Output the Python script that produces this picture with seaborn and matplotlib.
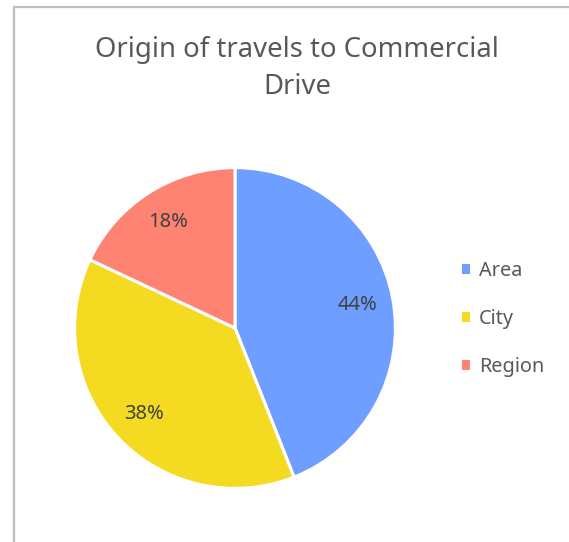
import matplotlib
matplotlib.use("Agg")
import matplotlib.pyplot as plt
import seaborn as sns
from matplotlib.lines import Line2D
from matplotlib.patches import Patch

categories = ["Area", "City", "Region"]
shares = [44, 38, 18]
colors = ["#6E9EFF", "#F5DA22", "#FF8373"]
title = "Origin of travels to Commercial\nDrive"

sns.set_theme(style="white")
plt.rcParams["font.family"] = ["Noto Sans", "DejaVu Sans"]

W, H = 569, 542
fig = plt.figure(figsize=(W / 100, H / 100), dpi=100)
fig.patch.set_facecolor("white")

cx, cy, r = 235, 328, 162
ax = fig.add_axes([(cx - r) / W, (H - cy - r) / H, 2 * r / W, 2 * r / H])
wedges, texts, autotexts = ax.pie(
    shares, colors=colors, startangle=90, counterclock=False,
    autopct=lambda p: f"{p:.0f}%", pctdistance=0.78,
    wedgeprops=dict(edgecolor="white", linewidth=2.2),
    textprops=dict(color="#404040", fontsize=14.5),
)
ax.set_xlim(-1.01, 1.01)
ax.set_ylim(-1.01, 1.01)
ax.set_aspect("equal")
ax.axis("off")

fig.text(297 / W, 1 - 68.5 / H, title, ha="center", va="center",
         fontsize=19.8, color="#595959", linespacing=1.46)

handles = [Patch(facecolor=c, edgecolor="none") for c in colors]
fig.legend(handles, categories, loc="center left",
           bbox_to_anchor=(444 / W, 1 - 319 / H), frameon=False,
           fontsize=14.3, labelcolor="#595959", handlelength=0.4,
           handleheight=0.4, handletextpad=0.45, labelspacing=1.42)

# chart border (left and top visible)
fig.add_artist(Line2D([13.5 / W, 13.5 / W], [0, 1 - 6.5 / H],
                      transform=fig.transFigure, color="#BFBFBF", lw=1.6))
fig.add_artist(Line2D([13.5 / W, 1], [1 - 6.5 / H, 1 - 6.5 / H],
                      transform=fig.transFigure, color="#BFBFBF", lw=1.6))

fig.savefig("out.png", dpi=100)
